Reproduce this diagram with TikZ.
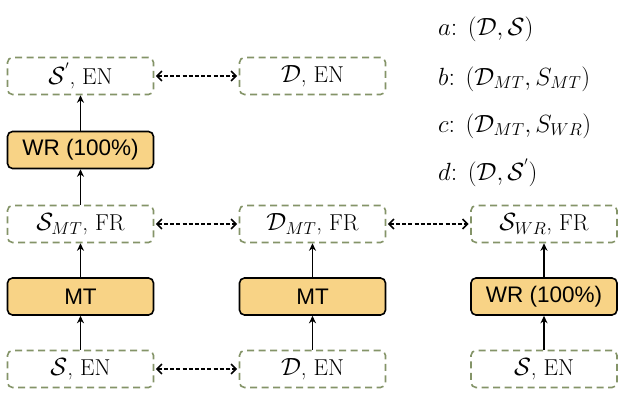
\documentclass[tikz,border=0pt]{standalone}
\usepackage{fontspec}
\setsansfont{Liberation Sans}
\usetikzlibrary{arrows.meta}
\definecolor{dgreen}{RGB}{132,148,104}
\definecolor{procfill}{RGB}{248,211,134}
\tikzset{
  datab/.style={draw=dgreen, dash pattern=on 7pt off 4.5pt, line width=1.6pt, rounded corners=5pt,
    minimum width=146pt, minimum height=37pt, inner sep=0pt, font=\fontsize{23}{27}\selectfont},
  procb/.style={draw=black, fill=procfill, line width=1.6pt, rounded corners=5pt,
    minimum width=146pt, minimum height=37pt, inner sep=0pt, font=\sffamily\fontsize{22.5}{26}\selectfont},
  up/.style={-{Stealth[length=7.5pt,width=7pt]}, line width=1.7pt},
  link/.style={{Straight Barb[length=5pt,width=10pt,line width=1.6pt]}-{Straight Barb[length=5pt,width=10pt,line width=1.6pt]},
    dash pattern=on 4pt off 2.2pt, line width=1.6pt, shorten <=1.5pt, shorten >=1.5pt},
  legend/.style={anchor=west, inner sep=0pt, font=\fontsize{26}{30}\selectfont}
}
\begin{document}
\begin{tikzpicture}[x=1pt,y=-1pt]
\useasboundingbox (0,0) rectangle (629,406);
% column 1
\node[datab] (sp)  at (80.5,76)  {$\mathcal{S}^{'}$, EN};
\node[procb] (wr1) at (80.5,150) {WR (100\%)};
\node[datab] (smt) at (80.5,224) {$\mathcal{S}_{MT}$, FR};
\node[procb] (mt1) at (80.5,296.5) {MT};
\node[datab] (s1)  at (80.5,369) {$\mathcal{S}$, EN};
% column 2
\node[datab] (dtop) at (312.5,76)  {$\mathcal{D}$, EN};
\node[datab] (dmt)  at (312.5,224) {$\mathcal{D}_{MT}$, FR};
\node[procb] (mt2)  at (312.5,296.5) {MT};
\node[datab] (d1)   at (312.5,369) {$\mathcal{D}$, EN};
% column 3
\node[datab] (swr) at (544,224) {$\mathcal{S}_{WR}$, FR};
\node[procb] (wr2) at (544,296.5) {WR (100\%)};
\node[datab] (s2)  at (544,369) {$\mathcal{S}$, EN};
% vertical arrows
\draw[up] (wr1) -- (sp);
\draw[up] (smt) -- (wr1);
\draw[up] (mt1) -- (smt);
\draw[up] (s1) -- (mt1);
\draw[up] (mt2) -- (dmt);
\draw[up] (d1) -- (mt2);
\draw[up] (wr2) -- (swr);
\draw[up] (s2) -- (wr2);
% horizontal links
\draw[link] (sp) -- (dtop);
\draw[link] (smt) -- (dmt);
\draw[link] (dmt) -- (swr);
\draw[link] (s1) -- (d1);
% legend
\node[legend] (la) at (438,29)  {$a$: $(\mathcal{D}, \mathcal{S})$};
\node[legend] (lb) at (438,79)  {$b$: $(\mathcal{D}_{MT}, S_{MT})$};
\node[legend] (lc) at (438,126) {$c$: $(\mathcal{D}_{MT}, S_{WR})$};
\node[legend] (ld) at (438,173) {$d$: $(\mathcal{D}, \mathcal{S}^{'})$};
\end{tikzpicture}
\end{document}
